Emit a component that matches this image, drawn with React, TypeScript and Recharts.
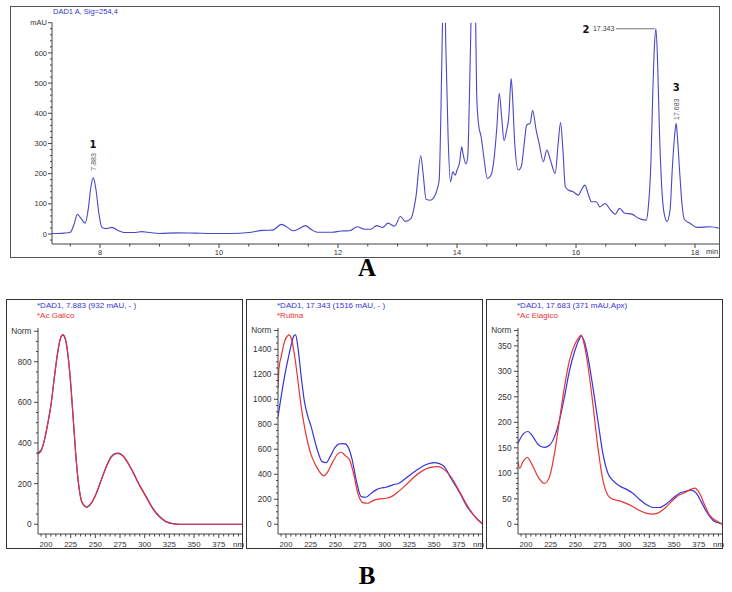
import React from 'react';
import { LineChart, Line, XAxis, YAxis, ReferenceDot } from 'recharts';

// ---------- Chromatogram (A) ----------
const chromTime = [7.19, 7.3, 7.4, 7.5, 7.56, 7.62, 7.68, 7.75, 7.8, 7.85, 7.887, 7.93, 7.98, 8.03, 8.1, 8.2, 8.3, 8.4, 8.6, 8.7, 8.8, 9.0, 9.3, 9.6, 9.9, 10.2, 10.5, 10.74, 10.9, 11.05, 11.15, 11.24, 11.35, 11.45, 11.55, 11.65, 11.9, 12.05, 12.2, 12.32, 12.45, 12.55, 12.65, 12.75, 12.84, 12.95, 13.05, 13.13, 13.22, 13.31, 13.39, 13.43, 13.48, 13.55, 13.6, 13.67, 13.7, 13.73, 13.76, 13.785, 13.81, 13.85, 13.89, 13.93, 13.97, 14.0, 14.04, 14.08, 14.1, 14.15, 14.18, 14.21, 14.24, 14.28, 14.31, 14.33, 14.36, 14.41, 14.45, 14.51, 14.57, 14.62, 14.67, 14.71, 14.75, 14.79, 14.83, 14.87, 14.91, 14.93, 14.97, 15.03, 15.08, 15.13, 15.17, 15.23, 15.27, 15.33, 15.38, 15.45, 15.51, 15.57, 15.65, 15.7, 15.74, 15.78, 15.82, 15.87, 15.95, 16.04, 16.09, 16.15, 16.21, 16.26, 16.34, 16.4, 16.49, 16.57, 16.66, 16.73, 16.82, 16.94, 17.05, 17.18, 17.21, 17.26, 17.29, 17.32, 17.343, 17.37, 17.4, 17.44, 17.48, 17.53, 17.58, 17.62, 17.66, 17.683, 17.7, 17.74, 17.78, 17.82, 17.92, 18.03, 18.25, 18.4];
const chromAbs = [2, 2, 3, 6, 30, 65, 52, 36, 80, 160, 186, 150, 70, 23, 18, 22, 12, 5, 5, 8, 6, 2, 4, 3, 2, 2, 5, 12, 13, 32, 22, 11, 18, 28, 15, 6, 6, 10, 11, 24, 16, 16, 28, 22, 36, 26, 58, 42, 50, 124, 259, 200, 115, 112, 118, 151, 179, 410, 750, 950, 640, 322, 173, 206, 195, 212, 234, 289, 267, 232, 256, 466, 750, 1000, 760, 466, 367, 317, 256, 184, 195, 245, 355, 466, 388, 309, 339, 388, 515, 466, 300, 212, 223, 300, 361, 367, 410, 344, 300, 240, 278, 245, 201, 300, 369, 278, 157, 146, 140, 129, 146, 162, 129, 107, 107, 90, 101, 82, 66, 85, 69, 66, 52, 46, 79, 245, 466, 631, 680, 576, 355, 157, 69, 41, 79, 223, 333, 367, 333, 212, 101, 49, 35, 22, 24, 19];

const peakTimes = [7.883, 17.343, 17.683];
const peakHeights = [186, 680, 367];
const peakNumbers = ['1', '2', '3'];
const peakRetention = ['7.883', '17.343', '17.683'];

const chromXLabels = [8, 10, 12, 14, 16, 18];
const chromYLabels = [0, 100, 200, 300, 400, 500, 600];
const chromYUnitTick = 700;

// ---------- Spectra (B) ----------
const galicoSampleNm = [191.9, 195.1, 198.5, 201.9, 205.3, 208.6, 212.0, 214.7, 217.1, 219.8, 222.8, 225.5, 227.9, 230.6, 233.3, 236.6, 241.4, 245.8, 250.9, 255.9, 261.0, 266.1, 271.1, 273.8, 277.9, 283.0, 288.0, 294.8, 301.5, 308.2, 315.0, 321.7, 328.5, 335.3, 399.4];
const galicoSampleVal = [352, 365, 415, 497, 595, 726, 849, 915, 931, 907, 808, 660, 497, 316, 185, 106, 84, 103, 152, 218, 283, 333, 349, 350, 338, 303, 259, 193, 136, 79, 38, 13, 3, 0, 0];
const galicoStdNm = [191.9, 195.1, 198.5, 201.9, 205.3, 208.6, 212.0, 214.7, 217.1, 219.8, 222.8, 225.5, 227.9, 230.6, 233.3, 236.6, 241.4, 245.8, 250.9, 255.9, 261.0, 266.1, 271.1, 273.8, 277.9, 283.0, 288.0, 294.8, 301.5, 308.2, 315.0, 321.7, 328.5, 335.3, 399.4];
const galicoStdVal = [345, 362, 418, 500, 598, 730, 852, 917, 933, 910, 812, 664, 500, 318, 188, 108, 86, 104, 150, 216, 280, 330, 347, 348, 336, 301, 256, 190, 133, 76, 36, 12, 3, 0, 0];

const rutinaSampleNm = [191.9, 195.1, 198.5, 201.9, 205.3, 208.0, 209.7, 212.0, 215.4, 218.7, 222.2, 225.5, 228.9, 232.3, 236.6, 240.7, 244.8, 249.1, 254.3, 259.2, 262.7, 267.1, 271.1, 276.2, 281.2, 286.3, 291.3, 296.4, 301.5, 308.2, 315.0, 321.7, 331.9, 342.0, 350.8, 359.2, 367.7, 376.1, 384.5, 393.0, 399.3];
const rutinaSampleVal = [861, 1021, 1181, 1315, 1435, 1507, 1515, 1421, 1181, 981, 861, 781, 675, 581, 501, 493, 541, 608, 643, 645, 621, 515, 355, 221, 216, 248, 275, 290, 296, 315, 330, 370, 430, 478, 493, 470, 360, 250, 128, 48, 2];
const rutinaStdNm = [191.9, 192.9, 195.1, 198.5, 201.9, 203.0, 205.3, 208.6, 212.0, 215.4, 218.7, 222.2, 225.5, 229.9, 233.9, 238.0, 242.4, 247.5, 252.5, 255.9, 260.3, 264.4, 268.4, 272.8, 277.9, 283.0, 288.0, 294.8, 301.5, 308.2, 315.0, 321.7, 328.5, 336.9, 345.4, 353.9, 360.7, 367.5, 375.9, 384.3, 392.8, 399.3];
const rutinaStdVal = [1088, 1248, 1341, 1461, 1510, 1515, 1488, 1355, 1155, 941, 781, 648, 555, 475, 421, 387, 421, 501, 563, 576, 547, 515, 408, 248, 173, 168, 189, 203, 208, 227, 269, 315, 368, 421, 453, 461, 435, 376, 261, 141, 48, 0];

const elagicoSampleNm = [191.9, 197.0, 201.9, 207.0, 213.0, 218.7, 223.8, 228.9, 233.9, 239.0, 244.1, 249.1, 253.5, 255.9, 259.2, 262.7, 267.7, 272.8, 277.9, 283.0, 288.0, 294.8, 301.5, 308.2, 315.0, 321.7, 328.5, 335.3, 342.0, 348.8, 355.6, 362.2, 367.5, 372.5, 377.6, 382.7, 389.4, 396.2, 399.3];
const elagicoSampleVal = [159, 177, 182, 172, 155, 151, 155, 172, 204, 250, 302, 338, 361, 369, 358, 329, 270, 204, 139, 100, 86, 75, 69, 61, 49, 39, 33, 33, 40, 51, 61, 65, 67, 61, 44, 25, 8, 2, 0];
const elagicoStdNm = [191.9, 193.5, 197.0, 201.3, 206.4, 212.2, 218.7, 223.8, 228.9, 233.9, 239.0, 244.1, 249.1, 253.5, 255.9, 259.2, 262.7, 267.7, 272.8, 277.9, 283.0, 288.0, 294.8, 301.5, 308.2, 315.0, 321.7, 328.5, 333.5, 340.4, 347.0, 353.9, 360.7, 367.5, 370.7, 375.9, 381.0, 386.0, 392.8, 399.3];
const elagicoStdVal = [123, 110, 123, 131, 116, 93, 80, 93, 139, 204, 270, 322, 351, 366, 371, 351, 312, 237, 152, 87, 57, 49, 46, 41, 35, 27, 22, 20, 22, 31, 44, 56, 62, 69, 71, 61, 38, 18, 7, 0];

const nmLabels = [200, 225, 250, 275, 300, 325, 350, 375];
const galicoYLabels = [0, 200, 400, 600, 800];
const rutinaYLabels = [0, 200, 400, 600, 800, 1000, 1200, 1400];
const elagicoYLabels = [0, 50, 100, 150, 200, 250, 300, 350];

const toRows = (xs: number[], ys: number[]) => xs.map((x, i) => ({ x, y: ys[i] }));
const range = (a: number, b: number, s: number) => {
  const out: number[] = [];
  for (let v = a; v <= b + 1e-9; v += s) out.push(Math.round(v * 1000) / 1000);
  return out;
};

const FONT = 'Liberation Sans, Arial, sans-serif';
const AX = '#444';

const makeXTick = (labels: number[], fs: number, dy: number, major = 4, minor = 2.5) => (p: any) => {
  const v = p.payload.value;
  const isMajor = labels.some((l) => Math.abs(l - v) < 1e-6);
  return (
    <g>
      <line x1={p.x} x2={p.x} y1={p.y} y2={p.y + (isMajor ? major : minor)} stroke={AX} strokeWidth={1} />
      {isMajor && (
        <text x={p.x} y={p.y + dy} textAnchor="middle" fontSize={fs} fill="#333" fontFamily={FONT}>
          {v}
        </text>
      )}
    </g>
  );
};

const makeYTick = (labels: number[], unitTick: number, unitText: string, fs: number, dx: number, major = 4, minor = 2.5) => (p: any) => {
  const v = p.payload.value;
  const isUnit = Math.abs(v - unitTick) < 1e-6;
  const isMajor = isUnit || labels.some((l) => Math.abs(l - v) < 1e-6);
  return (
    <g>
      <line x1={p.x} x2={p.x - (isMajor ? major : minor)} y1={p.y} y2={p.y} stroke={AX} strokeWidth={1} />
      {isMajor && (
        <text x={p.x - dx} y={p.y + fs * 0.35} textAnchor="end" fontSize={fs} fill="#333" fontFamily={FONT}>
          {isUnit ? unitText : v}
        </text>
      )}
    </g>
  );
};

const peakLabel = (i: number) => (props: any) => {
  const vb = props.viewBox || {};
  const cx = vb.x;
  const cy = vb.y;
  if (i === 1) {
    return (
      <g>
        <text x={cx - 70} y={cy + 4} textAnchor="middle" fontSize={10} fontWeight="bold" fill="#111" fontFamily="DejaVu Sans, sans-serif">
          {peakNumbers[i]}
        </text>
        <text x={cx - 63} y={cy + 2.5} textAnchor="start" fontSize={7} fill="#444" fontFamily={FONT}>
          {peakRetention[i]}
        </text>
        <line x1={cx - 40} x2={cx - 1} y1={cy} y2={cy} stroke="#777" strokeWidth={1.2} />
      </g>
    );
  }
  const numOff = i === 0 ? 34 : 36;
  const rtOff = i === 0 ? 16 : 14;
  return (
    <g>
      <text x={cx} y={cy - numOff + 4} textAnchor="middle" fontSize={10} fontWeight="bold" fill="#111" fontFamily="DejaVu Sans, sans-serif">
        {peakNumbers[i]}
      </text>
      <text
        x={cx + 2.5}
        y={cy - rtOff}
        textAnchor="middle"
        fontSize={7}
        fill="#555"
        fontFamily={FONT}
        transform={`rotate(-90 ${cx + 2.5} ${cy - rtOff})`}
      >
        {peakRetention[i]}
      </text>
    </g>
  );
};

const chromRows = toRows(chromTime, chromAbs);

function Chromatogram() {
  const xTicks = range(7.5, 18, 0.5);
  const yTicks = range(-20, 700, 20);
  return (
    <LineChart width={710} height={252} data={chromRows} margin={{ top: 16.7, right: 1, left: 0, bottom: 0 }}>
      <XAxis
        dataKey="x"
        type="number"
        domain={[7.193, 18.403]}
        allowDataOverflow
        ticks={xTicks}
        interval={0}
        height={14}
        tickSize={0}
        tickMargin={0}
        tickLine={false}
        axisLine={{ stroke: AX }}
        tick={makeXTick(chromXLabels, 7.5, 10.5, 4, 2.5)}
      />
      <YAxis
        type="number"
        domain={[-33, 700]}
        allowDataOverflow
        ticks={yTicks}
        interval={0}
        width={42}
        tickSize={0}
        tickMargin={0}
        tickLine={false}
        axisLine={{ stroke: AX }}
        tick={makeYTick(chromYLabels, chromYUnitTick, 'mAU', 7.5, 5, 4, 2)}
      />
      <Line dataKey="y" type="monotone" stroke="#4848c8" strokeWidth={1.1} dot={false} isAnimationActive={false} />
      {peakTimes.map((t, i) => (
        <ReferenceDot key={i} x={t} y={peakHeights[i]} r={0} fill="none" stroke="none" label={peakLabel(i)} />
      ))}
    </LineChart>
  );
}

type SpecProps = {
  sample: { x: number; y: number }[];
  std: { x: number; y: number }[];
  yDomain: [number, number];
  yLabels: number[];
  normTick: number;
  yMinorStep: number;
};

function Spectrum({ sample, std, yDomain, yLabels, normTick, yMinorStep }: SpecProps) {
  const xTicks = range(195, 395, 5);
  const yTicks = range(0, normTick, yMinorStep);
  return (
    <LineChart width={237} height={250} margin={{ top: 29, right: 0, left: 0, bottom: 0 }}>
      <XAxis
        dataKey="x"
        type="number"
        domain={[191.9, 399.6]}
        allowDataOverflow
        ticks={xTicks}
        interval={0}
        height={15}
        tickSize={0}
        tickMargin={0}
        tickLine={false}
        axisLine={{ stroke: AX }}
        tick={makeXTick(nmLabels, 7.8, 12.5, 4, 2.5)}
      />
      <YAxis
        type="number"
        domain={yDomain}
        allowDataOverflow
        ticks={yTicks}
        interval={0}
        width={32}
        tickSize={0}
        tickMargin={0}
        tickLine={false}
        axisLine={{ stroke: AX }}
        tick={makeYTick(yLabels, normTick, 'Norm', 8.3, 6.5, 4, 2)}
      />
      <Line data={sample} dataKey="y" type="monotone" stroke="#3434d8" strokeWidth={1.2} dot={false} isAnimationActive={false} />
      <Line data={std} dataKey="y" type="monotone" stroke="#e83434" strokeWidth={1.2} dot={false} isAnimationActive={false} />
    </LineChart>
  );
}

const panelLeft = [6, 246, 486];
const sampleTitles = ['*DAD1, 7.883 (932 mAU, - )', '*DAD1, 17.343 (1516 mAU, - )', '*DAD1, 17.683 (371 mAU,Apx)'];
const stdTitles = ['*Ac Galico', '*Rutina', '*Ac Elagico'];

export default function App() {
  const specs: SpecProps[] = [
    { sample: toRows(galicoSampleNm, galicoSampleVal), std: toRows(galicoStdNm, galicoStdVal), yDomain: [-48, 966], yLabels: galicoYLabels, normTick: 950, yMinorStep: 50 },
    { sample: toRows(rutinaSampleNm, rutinaSampleVal), std: toRows(rutinaStdNm, rutinaStdVal), yDomain: [-78, 1570], yLabels: rutinaYLabels, normTick: 1550, yMinorStep: 50 },
    { sample: toRows(elagicoSampleNm, elagicoSampleVal), std: toRows(elagicoStdNm, elagicoStdVal), yDomain: [-19, 385], yLabels: elagicoYLabels, normTick: 380, yMinorStep: 10 },
  ];
  return (
    <div style={{ position: 'absolute', left: 0, top: 0, width: 732, height: 592, background: '#fff', overflow: 'hidden' }}>
      <div style={{ position: 'absolute', left: 10, top: 6 }}>
        <Chromatogram />
      </div>
      <div style={{ position: 'absolute', left: 10, top: 6, width: 710, height: 252, boxSizing: 'border-box', border: '1.3px solid #555', pointerEvents: 'none' }} />
      <div style={{ position: 'absolute', left: 53, top: 7, fontSize: 7.5, color: '#3535c8', fontFamily: FONT, whiteSpace: 'nowrap' }}>DAD1 A, Sig=254,4</div>
      <div style={{ position: 'absolute', left: 706, top: 247, fontSize: 7.5, color: '#333', fontFamily: FONT }}>min</div>
      <div style={{ position: 'absolute', left: 0, width: 732, top: 254, textAlign: 'center', fontSize: 25, fontWeight: 'bold', fontFamily: 'Liberation Serif, Times New Roman, serif', color: '#000' }}>
        <span style={{ position: 'relative', left: 1 }}>A</span>
      </div>
      {specs.map((s, i) => (
        <React.Fragment key={i}>
          <div style={{ position: 'absolute', left: panelLeft[i], top: 299 }}>
            <Spectrum {...s} />
          </div>
          <div style={{ position: 'absolute', left: panelLeft[i], top: 299, width: 237, height: 250, boxSizing: 'border-box', border: '1.3px solid #333', pointerEvents: 'none' }} />
          <div style={{ position: 'absolute', left: panelLeft[i] + 31, top: 301, fontSize: 8, color: '#3434d8', fontFamily: FONT, whiteSpace: 'nowrap' }}>{sampleTitles[i]}</div>
          <div style={{ position: 'absolute', left: panelLeft[i] + 31, top: 311, fontSize: 8, color: '#e83434', fontFamily: FONT, whiteSpace: 'nowrap' }}>{stdTitles[i]}</div>
          <div style={{ position: 'absolute', left: panelLeft[i] + 227, top: 539.5, fontSize: 8, color: '#333', fontFamily: FONT }}>nm</div>
        </React.Fragment>
      ))}
      <div style={{ position: 'absolute', left: 0, width: 732, top: 562, textAlign: 'center', fontSize: 25, fontWeight: 'bold', fontFamily: 'Liberation Serif, Times New Roman, serif', color: '#000' }}>
        <span style={{ position: 'relative', left: 1 }}>B</span>
      </div>
    </div>
  );
}
